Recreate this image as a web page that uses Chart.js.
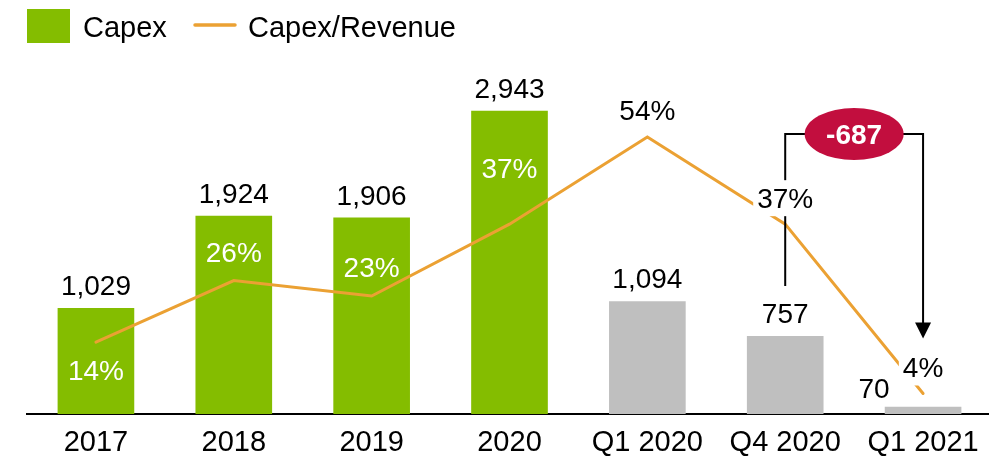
<!DOCTYPE html>
<html>
<head>
<meta charset="utf-8">
<script src="https://cdn.jsdelivr.net/npm/chart.js@4.4.1/dist/chart.umd.min.js"></script>
<style>
  html, body { margin: 0; padding: 0; background: #fff; overflow: hidden; }
  #wrap { width: 993px; height: 459px; }
</style>
</head>
<body>
<div id="wrap"><canvas id="capexChart" width="993" height="459"></canvas></div>
<script>
const labels = ['2017', '2018', '2019', '2020', 'Q1 2020', 'Q4 2020', 'Q1 2021'];
const capex = [1029, 1924, 1906, 2943, 1094, 757, 70];
const capexRatio = [14, 26, 23, 37, 54, 37, 4];
const periodType = ['year', 'year', 'year', 'year', 'quarter', 'quarter', 'quarter'];

const GREEN = '#84BD00';
const GREY = '#BFBFBF';
const ORANGE = '#EBA133';
const CRIMSON = '#C20E3E';
const FONT = '"Liberation Sans", Arial, sans-serif';

// where the % label sits relative to its line point (cap centre, px)
const ratioLabelShift = [28, -29, -29, -56, -27, -26, -26];
const valueLabelNudge = { 6: { dx: -49, dy: 4 } };

const overlay = {
    id: 'overlay',
    afterDatasetsDraw(chart) {
        const ctx = chart.ctx;
        const pts = chart.getDatasetMeta(0).data;
        const bars = chart.getDatasetMeta(1).data;
        ctx.save();

        // values above bars
        ctx.font = `28px ${FONT}`;
        ctx.textAlign = 'center';
        ctx.textBaseline = 'alphabetic';
        ctx.fillStyle = '#000';
        bars.forEach((b, i) => {
            const n = valueLabelNudge[i] || { dx: 0, dy: 0 };
            ctx.fillText(capex[i].toLocaleString('en-US'), b.x + n.dx, b.y - 13 + n.dy);
        });

        // bracket Q4 2020 -> Q1 2021
        const xa = bars[5].x, xb = bars[6].x;
        const yTop = chart.chartArea.top + 74;
        const tipY = pts[6].y - 55;
        ctx.strokeStyle = '#000';
        ctx.lineWidth = 2;
        ctx.beginPath();
        ctx.moveTo(xa, bars[5].y - 50);
        ctx.lineTo(xa, yTop);
        ctx.lineTo(xb, yTop);
        ctx.lineTo(xb, tipY - 14);
        ctx.stroke();
        ctx.fillStyle = '#000';
        ctx.beginPath();
        ctx.moveTo(xb - 8, tipY - 16);
        ctx.lineTo(xb + 8, tipY - 16);
        ctx.lineTo(xb, tipY);
        ctx.closePath();
        ctx.fill();

        const cx = (xa + xb) / 2;
        ctx.fillStyle = CRIMSON;
        ctx.beginPath();
        ctx.ellipse(cx, yTop, 49.5, 26, 0, 0, Math.PI * 2);
        ctx.fill();
        ctx.fillStyle = '#fff';
        ctx.font = `bold 28px ${FONT}`;
        ctx.fillText(String(capex[6] - capex[5]), cx, yTop + 10);

        // ratio labels
        ctx.font = `28px ${FONT}`;
        pts.forEach((p, i) => {
            const cy = p.y + ratioLabelShift[i];
            const txt = capexRatio[i] + '%';
            if (periodType[i] === 'year') {
                ctx.fillStyle = '#fff';
            } else {
                const w = ctx.measureText(txt).width + 8;
                ctx.fillStyle = '#fff';
                ctx.fillRect(p.x - w / 2, cy - 18, w, 36);
                ctx.fillStyle = '#000';
            }
            ctx.fillText(txt, p.x, cy + 10);
        });
        ctx.restore();
    },
    afterDraw(chart) {
        const ctx = chart.ctx;
        ctx.save();
        ctx.fillStyle = GREEN;
        ctx.fillRect(27, 9, 43, 34);
        ctx.strokeStyle = ORANGE;
        ctx.lineWidth = 3.5;
        ctx.lineCap = 'round';
        ctx.beginPath();
        ctx.moveTo(195, 25);
        ctx.lineTo(235, 25);
        ctx.stroke();
        ctx.fillStyle = '#000';
        ctx.font = `29px ${FONT}`;
        ctx.textAlign = 'left';
        ctx.textBaseline = 'alphabetic';
        ctx.fillText('Capex', 83, 37);
        ctx.fillText('Capex/Revenue', 248, 37);
        ctx.restore();
    }
};

new Chart(document.getElementById('capexChart'), {
    data: {
        labels,
        datasets: [
            {
                type: 'line',
                label: 'Capex/Revenue',
                data: capexRatio,
                yAxisID: 'yPct',
                borderColor: ORANGE,
                borderWidth: 3,
                borderCapStyle: 'round',
                pointRadius: 0,
                tension: 0,
                order: 0
            },
            {
                type: 'bar',
                label: 'Capex',
                data: capex,
                yAxisID: 'yBar',
                backgroundColor: periodType.map(t => t === 'year' ? GREEN : GREY),
                barPercentage: 0.556,
                categoryPercentage: 1,
                order: 1
            }
        ]
    },
    options: {
        responsive: false,
        animation: false,
        layout: { padding: { top: 60, left: 27, right: 1, bottom: 0 } },
        plugins: { legend: { display: false }, tooltip: { enabled: false } },
        scales: {
            x: {
                grid: { display: false, drawTicks: false },
                border: { display: true, color: '#000', width: 2 },
                ticks: { color: '#000', font: { family: FONT, size: 29 }, padding: 12, maxRotation: 0 },
                afterFit: (scale) => { scale.height = 45; }
            },
            yBar: { display: false, min: 0, max: 3435 },
            yPct: { display: false, min: 0, max: 69 }
        }
    },
    plugins: [overlay]
});
</script>
</body>
</html>
